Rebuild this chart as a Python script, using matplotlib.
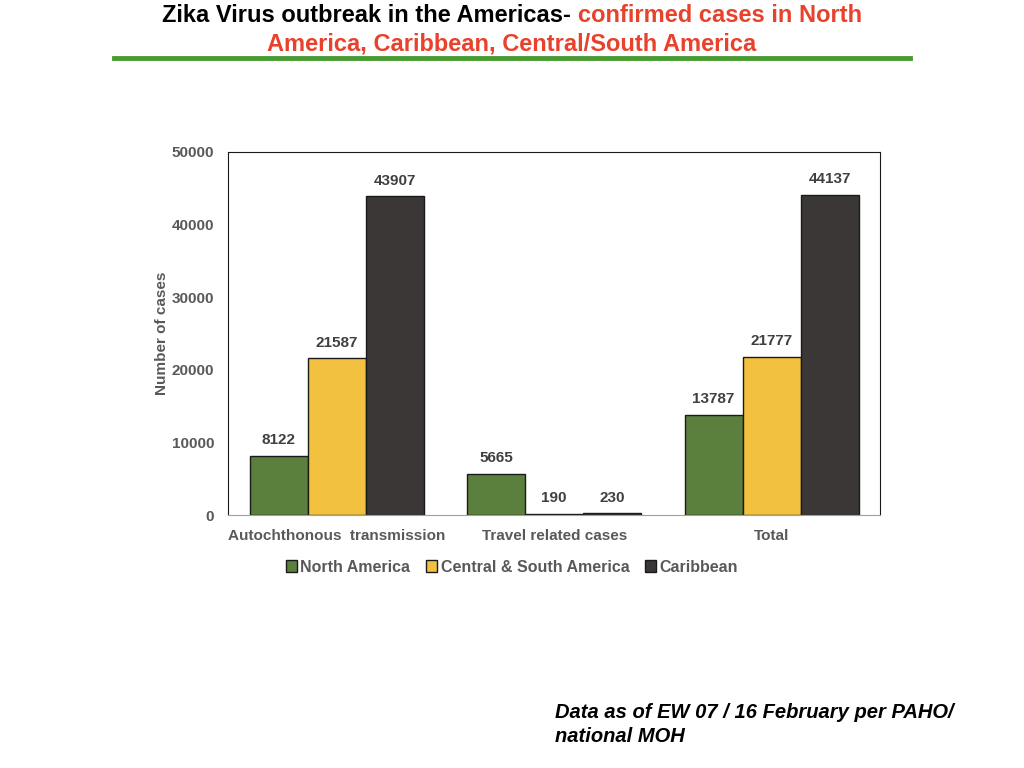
import numpy as np
import matplotlib.pyplot as plt
from matplotlib.lines import Line2D

# Data
categories = ['Autochthonous  transmission', 'Travel related cases', 'Total']
series_names = ['North America', 'Central & South America', 'Caribbean']
north_america = [8122, 5665, 13787]
central_south = [21587, 190, 21777]
caribbean = [43907, 230, 44137]
colors = ['#5B7F3C', '#F2C140', '#3B3736']

plt.rcParams['font.family'] = ['Liberation Sans', 'DejaVu Sans']

fig = plt.figure(figsize=(10.24, 7.68), dpi=100)
ax = fig.add_axes([0.2227, 0.3294, 0.637, 0.4727])

x = np.arange(len(categories))
w = 0.267
for i, (vals, name) in enumerate(zip([north_america, central_south, caribbean], series_names)):
    bars = ax.bar(x + (i - 1) * w, vals, w, color=colors[i], edgecolor='#1a1a1a',
                  linewidth=1.0, label=name)
    for b, v in zip(bars, vals):
        ax.text(b.get_x() + b.get_width() / 2, v + 1200, str(v), ha='center', va='bottom',
                fontsize=11, fontweight='bold', color='#404040')

ax.set_xlim(-0.5, 2.5)
ax.set_ylim(0, 50000)
ax.set_yticks(range(0, 50001, 10000))
ax.set_xticks(x)
ax.set_xticklabels(categories)
ax.tick_params(length=0, pad=10)
for lbl in ax.get_xticklabels() + ax.get_yticklabels():
    lbl.set_fontsize(11)
    lbl.set_fontweight('bold')
    lbl.set_color('#595959')
for s in ['left', 'top', 'right']:
    ax.spines[s].set_color('#1a1a1a')
ax.spines['bottom'].set_color('#a0a0a0')
ax.set_ylabel('Number of cases', fontsize=11, fontweight='bold', color='#595959', labelpad=2)

handles = [plt.Rectangle((0, 0), 1, 1, facecolor=c, edgecolor='#1a1a1a') for c in colors]
leg = fig.legend(handles, series_names, loc='center', bbox_to_anchor=(0.5, 1 - 567 / 768),
                 ncol=3, frameon=False, handlelength=0.7, handleheight=0.7,
                 handletextpad=0.2, columnspacing=1.0,
                 prop={'size': 11.5, 'weight': 'bold'})
for t in leg.get_texts():
    t.set_color('#595959')

# Title with two colours on the first line
red = '#E8412C'
title_font = dict(fontsize=17, fontweight='bold', va='center')
fig.canvas.draw()
r = fig.canvas.get_renderer()
t_black = fig.text(0, 1 - 16 / 768, 'Zika Virus outbreak in the Americas- ', color='black', **title_font)
t_red = fig.text(0, 1 - 16 / 768, 'confirmed cases in North', color=red, **title_font)
wb = t_black.get_window_extent(r).width / fig.bbox.width
wr = t_red.get_window_extent(r).width / fig.bbox.width
x0 = 0.5 - (wb + wr) / 2
t_black.set_x(x0)
t_red.set_x(x0 + wb)
fig.text(0.5, 1 - 44 / 768, 'America, Caribbean, Central/South America', color=red,
         ha='center', **title_font)
fig.add_artist(Line2D([114 / 1024, 910 / 1024], [1 - 58 / 768] * 2, color='#4A9A32', linewidth=3.5))

fig.text(555 / 1024, 1 - 713 / 768, 'Data as of EW 07 / 16 February per PAHO/',
         fontsize=14.5, fontweight='bold', style='italic', va='center')
fig.text(555 / 1024, 1 - 737 / 768, 'national MOH',
         fontsize=14.5, fontweight='bold', style='italic', va='center')

fig.savefig('out.png', dpi=100)
